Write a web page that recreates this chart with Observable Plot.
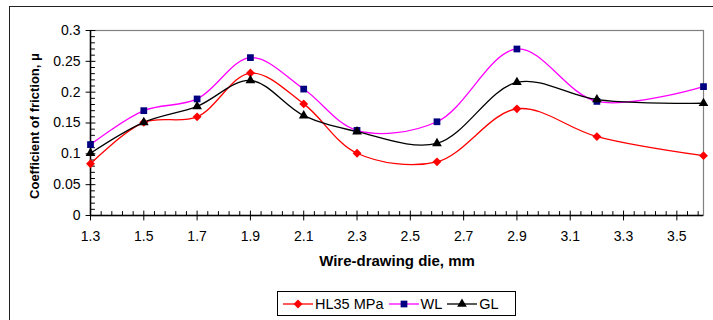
<!DOCTYPE html>
<html>
<head>
<meta charset="utf-8">
<script src="https://cdn.jsdelivr.net/npm/d3@7"></script>
<script src="https://cdn.jsdelivr.net/npm/@observablehq/plot@0.6"></script>
<style>
  html, body { margin: 0; padding: 0; background: #fff; }
  body { width: 713px; height: 320px; position: relative; overflow: hidden; font-family: "Liberation Sans", Arial, sans-serif; }
  #outer { position: absolute; left: 9px; top: 6px; width: 800px; height: 400px; border-left: 1.5px solid #222; border-top: 1.5px solid #222; }
  #chart { position: absolute; left: 0; top: 0; }
  #legend { position: absolute; left: 277px; top: 291px; width: 237px; height: 23px; border: 1px solid #000; background: #fff;
            display: flex; align-items: center; font-size: 14.5px; }
  #legend .item { display: flex; align-items: center; margin-left: 5px; }
  #legend .item span { margin-left: 2px; }
</style>
</head>
<body>
<div id="outer"></div>
<div id="chart"></div>
<div id="legend"></div>
<script>
// ---- data ----
const dieSizes = [1.3, 1.5, 1.7, 1.9, 2.1, 2.3, 2.6, 2.9, 3.2, 3.6];
const hl35 = [0.084, 0.151, 0.160, 0.231, 0.181, 0.101, 0.087, 0.173, 0.128, 0.097];
const wl   = [0.115, 0.170, 0.189, 0.256, 0.205, 0.138, 0.152, 0.270, 0.185, 0.209];
const gl   = [0.101, 0.151, 0.177, 0.219, 0.162, 0.136, 0.117, 0.216, 0.188, 0.182];
const seriesNames = ["HL35 MPa", "WL", "GL"];
const xTicks = [1.3, 1.5, 1.7, 1.9, 2.1, 2.3, 2.5, 2.7, 2.9, 3.1, 3.3, 3.5];
const yTicks = [0, 0.05, 0.1, 0.15, 0.2, 0.25, 0.3];
const xLabel = "Wire-drawing die, mm";
const yLabel = "Coefficient of friction, μ";

const styles = {
  "HL35 MPa": {line: "#ff0000", fill: "#ff0000", symbol: "diamond2", r: 4},
  "WL": {line: "#ff00ff", fill: "#000080", symbol: "square", r: 3.8},
  "GL": {line: "#000000", fill: "#000000", symbol: "triangle", r: 3.6}
};
const seriesValues = [hl35, wl, gl];
const rows = seriesNames.flatMap((name, k) => dieSizes.map((x, i) => ({series: name, x, y: seriesValues[k][i]})));

const xMinor = d3.range(0, 58).map(i => +(1.3 + i * 0.04).toFixed(2)).filter(v => v <= 3.6 && !xTicks.some(t => Math.abs(t - v) < 1e-6) && v > 1.3);
const yMinor = d3.range(0, 31).map(i => +(i * 0.01).toFixed(2)).filter(v => !yTicks.some(t => Math.abs(t - v) < 1e-6));

const tickShape = {draw(ctx, l) { ctx.moveTo(0, 0); ctx.lineTo(0, -l); }};

const marks = [
  Plot.frame({stroke: "#808080", strokeWidth: 1.2}),
  Plot.ruleY([0], {stroke: "#000", strokeWidth: 1.5}),
  Plot.ruleX([1.3], {stroke: "#000", strokeWidth: 1.5}),
  // x ticks
  Plot.vector(xTicks, {x: d => d, y: 0, length: 9, rotate: 0, anchor: "middle", shape: tickShape, stroke: "#000", strokeWidth: 1}),
  Plot.vector(xMinor, {x: d => d, y: 0, length: 4, rotate: 0, anchor: "start", shape: tickShape, stroke: "#000", strokeWidth: 1}),
  // y ticks
  Plot.vector(yTicks, {x: 1.3, y: d => d, length: 9, rotate: 90, anchor: "middle", shape: tickShape, stroke: "#000", strokeWidth: 1}),
  Plot.vector(yMinor, {x: 1.3, y: d => d, length: 4, rotate: 90, anchor: "start", shape: tickShape, stroke: "#000", strokeWidth: 1}),
  Plot.axisX(xTicks, {tickSize: 0, tickPadding: 16, fontSize: 14, fill: "#000", label: null, tickFormat: d => d.toFixed(1)}),
  Plot.axisY(yTicks, {tickSize: 0, tickPadding: 10, fontSize: 14, fill: "#000", label: null, tickFormat: d => String(d)}),
  Plot.text([xLabel], {frameAnchor: "bottom", dy: 50, fontSize: 15, fontWeight: "bold", fill: "#000"}),
  Plot.text([yLabel], {frameAnchor: "left", textAnchor: "middle", dx: -56, dy: 3, rotate: -90, fontSize: 13, fontWeight: "bold", fill: "#000"})
];
for (const name of seriesNames) {
  const s = styles[name];
  const data = rows.filter(d => d.series === name);
  marks.push(Plot.line(data, {x: "x", y: "y", stroke: s.line, strokeWidth: 1.3, curve: "catmull-rom"}));
}
for (const name of seriesNames) {
  const s = styles[name];
  const data = rows.filter(d => d.series === name);
  marks.push(Plot.dot(data, {x: "x", y: "y", symbol: s.symbol, r: s.r, fill: s.fill, stroke: "none"}));
}

const chart = Plot.plot({
  width: 713,
  height: 320,
  marginTop: 30,
  marginBottom: 105,
  marginLeft: 90,
  marginRight: 10,
  style: {fontFamily: "'Liberation Sans', Arial, sans-serif", background: "transparent", overflow: "visible"},
  x: {domain: [1.3, 3.6], axis: null},
  y: {domain: [0, 0.3], axis: null},
  marks
});
document.getElementById("chart").appendChild(chart);

// legend
const legend = document.getElementById("legend");
for (const name of seriesNames) {
  const s = styles[name];
  const item = document.createElement("div");
  item.className = "item";
  const sym = d3.symbol().type(s.symbol === "diamond2" ? d3.symbolDiamond2 : s.symbol === "square" ? d3.symbolSquare : d3.symbolTriangle).size(Math.PI * s.r * s.r)();
  item.innerHTML = `<svg width="30" height="12"><line x1="0" x2="30" y1="6" y2="6" stroke="${s.line}" stroke-width="1.3"/><path d="${sym}" transform="translate(15,6)" fill="${s.fill}"/></svg><span>${name}</span>`;
  legend.appendChild(item);
}
</script>
</body>
</html>
